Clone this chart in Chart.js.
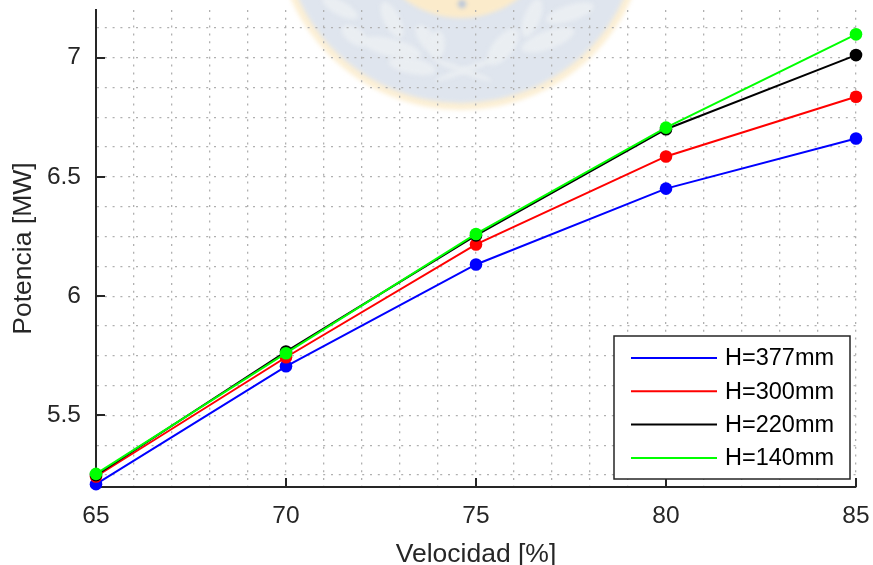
<!DOCTYPE html>
<html>
<head>
<meta charset="utf-8">
<title>Potencia vs Velocidad</title>
<script src="https://cdn.jsdelivr.net/npm/chart.js@4.4.1/dist/chart.umd.min.js"></script>
<style>
  html, body { margin: 0; padding: 0; background: #ffffff; }
  #wrap { width: 873px; height: 565px; }
</style>
</head>
<body>
<div id="wrap"><canvas id="c" width="873" height="565"></canvas></div>
<script>
// Velocidad [%] on the horizontal axis
const velocidad = [65, 70, 75, 80, 85];

// Potencia [MW] for each head H
const potH377 = [5.212, 5.706, 6.133, 6.451, 6.661];
const potH300 = [5.244, 5.744, 6.217, 6.586, 6.836];
const potH220 = [5.250, 5.768, 6.255, 6.700, 7.011];
const potH140 = [5.255, 5.761, 6.261, 6.707, 7.098];

const seriesLabels = ['H=377mm', 'H=300mm', 'H=220mm', 'H=140mm'];
const seriesValues = [potH377, potH300, potH220, potH140];
const seriesColors = ['#0000ff', '#ff0000', '#000000', '#00ff00'];

// labelled (major) ticks
const xTickLabels = [65, 70, 75, 80, 85];
const yTickLabels = [5.5, 6, 6.5, 7];

const axisColor = '#262626';
const gridColor = '#b0b0b0';
const fontFamily = '"Liberation Sans", Arial, Helvetica, sans-serif';

// grid positions: minor divisions of 1 % and 0.125 MW
const xGrid = [];
for (let v = 65; v <= 85; v++) xGrid.push(v);
const yGrid = [];
for (let k = 42; k <= 57; k++) yGrid.push(k / 8);

// faint seal printed behind the plot
const seal = {
  id: 'seal',
  beforeDraw(chart) {
    const ctx = chart.ctx;
    const cx = 461, cy = -76, r = 186;
    ctx.save();
    ctx.filter = 'blur(2px)';
    ctx.fillStyle = '#fcefd4';
    ctx.beginPath(); ctx.arc(cx, cy, r, 0, Math.PI * 2); ctx.fill();
    ctx.fillStyle = '#dfe5ee';
    ctx.beginPath(); ctx.arc(cx, cy, r - 7, 0, Math.PI * 2); ctx.fill();
    ctx.fillStyle = '#fbebcb';
    ctx.beginPath(); ctx.arc(cx, cy, 94, 0, Math.PI * 2); ctx.fill();
    ctx.fillStyle = '#b9c6da';
    ctx.beginPath(); ctx.arc(462, 4, 4, 0, Math.PI * 2); ctx.fill();
    const leaves = [
      [340, 8, 20, 7, 0.5], [392, 20, 20, 8, 1.1], [355, 36, 15, 8, 0.6],
      [392, 48, 30, 9, 0.25], [412, 66, 24, 8, 0.2], [428, 40, 18, 8, 0.9],
      [532, 18, 20, 8, -1.2], [570, 13, 25, 8, -0.3], [548, 40, 28, 9, -0.35],
      [503, 47, 22, 10, -0.9], [437, 45, 8, 14, 0.1],
      [462, 70, 32, 3, 0.35], [465, 70, 32, 3, -0.35]
    ];
    ctx.fillStyle = '#eaeef2';
    leaves.forEach(([x, y, rx, ry, a]) => {
      ctx.beginPath(); ctx.ellipse(x, y, rx, ry, a, 0, Math.PI * 2); ctx.fill();
    });
    ctx.restore();
  }
};

// tick marks pointing into the plot area
const inwardTicks = {
  id: 'inwardTicks',
  beforeDatasetsDraw(chart) {
    const { ctx, chartArea: a, scales: { x, y } } = chart;
    ctx.save();
    ctx.strokeStyle = axisColor;
    ctx.lineWidth = 2;
    ctx.beginPath();
    xTickLabels.forEach(v => {
      const px = Math.round(x.getPixelForValue(v));
      ctx.moveTo(px, a.bottom); ctx.lineTo(px, a.bottom - 9);
    });
    yTickLabels.forEach(v => {
      const py = Math.round(y.getPixelForValue(v));
      ctx.moveTo(a.left, py); ctx.lineTo(a.left + 9, py);
    });
    ctx.stroke();
    ctx.restore();
  }
};

// boxed legend in the lower right corner of the plot
const boxLegend = {
  id: 'boxLegend',
  afterDatasetsDraw(chart) {
    const { ctx, chartArea: a } = chart;
    const w = 236, h = 143;
    const right = a.right - 6, bottom = a.bottom - 8;
    const left = right - w, top = bottom - h;
    ctx.save();
    ctx.fillStyle = '#ffffff';
    ctx.fillRect(left, top, w, h);
    ctx.strokeStyle = axisColor;
    ctx.lineWidth = 1.5;
    ctx.strokeRect(left, top, w, h);
    ctx.font = '23.5px ' + fontFamily;
    ctx.textBaseline = 'middle';
    ctx.textAlign = 'left';
    chart.data.datasets.forEach((ds, i) => {
      const yy = top + 22 + i * 33.3;
      ctx.strokeStyle = ds.borderColor;
      ctx.lineWidth = 2;
      ctx.beginPath(); ctx.moveTo(left + 17, yy); ctx.lineTo(left + 103, yy); ctx.stroke();
      ctx.fillStyle = '#000000';
      ctx.fillText(ds.label, left + 111, yy + 1);
    });
    ctx.restore();
  }
};

const datasets = seriesValues.map((vals, i) => ({
  label: seriesLabels[i],
  data: velocidad.map((v, j) => ({ x: v, y: vals[j] })),
  borderColor: seriesColors[i],
  backgroundColor: seriesColors[i],
  borderWidth: 2,
  pointRadius: 6.3,
  pointHoverRadius: 6.3,
  pointBorderWidth: 0,
  tension: 0,
  clip: false,
  order: seriesValues.length - 1 - i
}));

new Chart(document.getElementById('c'), {
  type: 'line',
  data: { datasets },
  plugins: [seal, inwardTicks, boxLegend],
  options: {
    responsive: false,
    animation: false,
    devicePixelRatio: 1,
    layout: { padding: { left: 0, right: 17, top: 10, bottom: 0 } },
    plugins: { legend: { display: false }, tooltip: { enabled: false } },
    scales: {
      x: {
        type: 'linear',
        min: 65,
        max: 85,
        afterBuildTicks: s => { s.ticks = xGrid.map(v => ({ value: v })); },
        afterFit: s => { s.height = 78; s.paddingLeft = 0; s.paddingRight = 0; },
        ticks: {
          autoSkip: false,
          maxRotation: 0,
          padding: 15,
          color: axisColor,
          font: { family: fontFamily, size: 24.5 },
          callback: v => xTickLabels.includes(v) ? String(v) : ''
        },
        grid: { color: gridColor, lineWidth: 1.3, drawTicks: false },
        border: { display: true, color: axisColor, width: 2, dash: [2, 5.8] },
        title: {
          display: true,
          text: 'Velocidad [%]',
          color: axisColor,
          padding: 0,
          font: { family: fontFamily, size: 26.5, lineHeight: 0.78 }
        }
      },
      y: {
        type: 'linear',
        min: 5.2,
        max: 7.2,
        afterBuildTicks: s => { s.ticks = yGrid.map(v => ({ value: v })); },
        afterFit: s => { s.width = 96; s.paddingTop = 0; s.paddingBottom = 0; },
        ticks: {
          autoSkip: false,
          padding: 15,
          color: axisColor,
          font: { family: fontFamily, size: 24.5 },
          callback: v => yTickLabels.includes(v) ? String(v) : ''
        },
        grid: { color: gridColor, lineWidth: 1.3, drawTicks: false },
        border: { display: true, color: axisColor, width: 2, dash: [2, 5.8] },
        title: {
          display: true,
          text: 'Potencia [MW]',
          color: axisColor,
          padding: { top: 8, bottom: 0 },
          font: { family: fontFamily, size: 26.5, lineHeight: 1.2 }
        }
      }
    }
  }
});
</script>
</body>
</html>
